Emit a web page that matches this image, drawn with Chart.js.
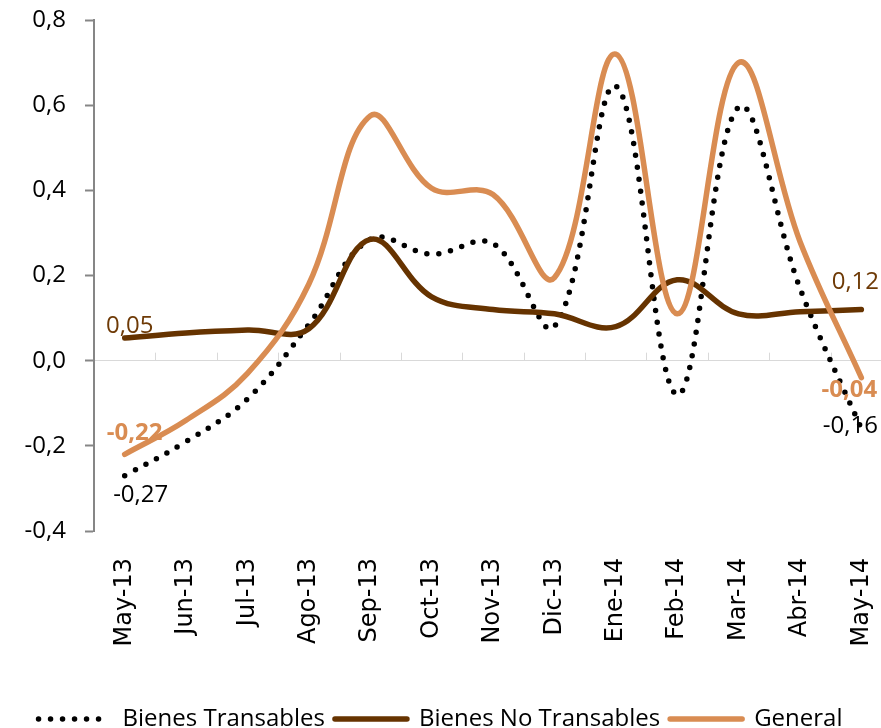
<!DOCTYPE html>
<html>
<head>
<meta charset="utf-8">
<script src="https://cdn.jsdelivr.net/npm/chart.js@4.4.1/dist/chart.umd.min.js"></script>
<style>
  html, body { margin: 0; padding: 0; background: #ffffff; }
  #wrap { width: 881px; height: 728px; }
</style>
</head>
<body>
<div id="wrap"><canvas id="c" width="881" height="728"></canvas></div>
<script>
const categories = ['May-13','Jun-13','Jul-13','Ago-13','Sep-13','Oct-13','Nov-13','Dic-13','Ene-14','Feb-14','Mar-14','Abr-14','May-14'];
const transables = [-0.27, -0.19, -0.09, 0.085, 0.285, 0.25, 0.275, 0.08, 0.645, -0.08, 0.595, 0.17, -0.16];
const noTransables = [0.053, 0.065, 0.072, 0.075, 0.285, 0.15, 0.12, 0.11, 0.08, 0.19, 0.11, 0.115, 0.12];
const general = [-0.22, -0.14, -0.03, 0.18, 0.575, 0.405, 0.39, 0.195, 0.72, 0.11, 0.70, 0.28, -0.04];
const seriesNames = ['Bienes Transables', 'Bienes No Transables', 'General'];
const yTicks = { min: -0.4, max: 0.8, step: 0.2 };

const fmt = (v, d) => (Math.abs(v) < 1e-9 ? 0 : v).toFixed(d).replace('.', ',');
const toPoints = arr => arr.map((v, i) => ({ x: i, y: v }));

const zeroTicks = {
  id: 'zeroTicks',
  beforeDatasetsDraw(chart) {
    const xs = chart.scales.x, ys = chart.scales.y, ctx = chart.ctx;
    const y0 = ys.getPixelForValue(0);
    ctx.save();
    ctx.strokeStyle = '#d9d9d9';
    ctx.lineWidth = 1;
    for (let i = 1; i < categories.length; i++) {
      const x = Math.round(xs.getPixelForValue(i - 0.5)) + 0.5;
      ctx.beginPath();
      ctx.moveTo(x, y0);
      ctx.lineTo(x, y0 - 8);
      ctx.stroke();
    }
    ctx.restore();
  }
};

const endLabels = {
  id: 'endLabels',
  afterDatasetsDraw(chart) {
    const ctx = chart.ctx;
    const specs = [
      { ds: 0, color: '#000000', bold: false, first: [16, 20], last: [-11, -3] },
      { ds: 1, color: '#6e3a06', bold: false, first: [5, -12], last: [-6, -27] },
      { ds: 2, color: '#d98c52', bold: true, first: [10, -21], last: [-12, 12] }
    ];
    ctx.save();
    ctx.textAlign = 'center';
    ctx.textBaseline = 'middle';
    specs.forEach(s => {
      const meta = chart.getDatasetMeta(s.ds);
      const data = chart.data.datasets[s.ds].data;
      ctx.font = (s.bold ? 'bold ' : '') + '24px "Open Sans"';
      ctx.fillStyle = s.color;
      const p0 = meta.data[0], pn = meta.data[data.length - 1];
      ctx.fillText(fmt(data[0].y, 2), p0.x + s.first[0], p0.y + s.first[1]);
      ctx.fillText(fmt(data[data.length - 1].y, 2), pn.x + s.last[0], pn.y + s.last[1]);
    });
    ctx.restore();
  }
};

Chart.defaults.font.family = '"Open Sans", sans-serif';
Chart.defaults.color = '#000000';

const PAD_BOTTOM = -13;

new Chart(document.getElementById('c'), {
  type: 'line',
  data: {
    datasets: [
      {
        label: seriesNames[0], data: toPoints(transables), order: 2,
        borderColor: '#000000', backgroundColor: '#000000',
        borderWidth: 5.5, borderDash: [0, 12], borderCapStyle: 'round',
        pointRadius: 0, tension: 0.38, fill: false
      },
      {
        label: seriesNames[1], data: toPoints(noTransables), order: 1,
        borderColor: '#663300', backgroundColor: '#663300',
        borderWidth: 5.5, borderCapStyle: 'round',
        pointRadius: 0, tension: 0.38, fill: false
      },
      {
        label: seriesNames[2], data: toPoints(general), order: 0,
        borderColor: '#d98c52', backgroundColor: '#d98c52',
        borderWidth: 5.5, borderCapStyle: 'round',
        pointRadius: 0, tension: 0.38, fill: false
      }
    ]
  },
  options: {
    responsive: false,
    animation: false,
    layout: { padding: { left: 0, right: 0, top: 20, bottom: PAD_BOTTOM } },
    plugins: {
      tooltip: { enabled: false },
      legend: {
        position: 'bottom',
        labels: {
          usePointStyle: true,
          pointStyle: 'line',
          pointStyleWidth: 72,
          padding: 10,
          color: '#000000',
          font: { size: 24, family: '"Open Sans", sans-serif' },
          sort: (a, b) => a.datasetIndex - b.datasetIndex,
          generateLabels(chart) {
            const items = Chart.defaults.plugins.legend.labels.generateLabels(chart);
            items.forEach(it => {
              const ds = chart.data.datasets[it.datasetIndex];
              it.lineDash = ds.borderDash || [];
              it.lineCap = ds.borderCapStyle || 'butt';
              it.lineWidth = ds.borderWidth;
              it.strokeStyle = ds.borderColor;
              it.fillStyle = ds.borderColor;
              it.pointStyle = 'line';
            });
            return items;
          }
        }
      }
    },
    scales: {
      x: {
        type: 'linear',
        min: -0.5,
        max: 12.32,
        grid: { display: false, drawTicks: false },
        border: { display: false },
        ticks: {
          stepSize: 1, maxTicksLimit: 30, includeBounds: false,
          minRotation: 90, maxRotation: 90, autoSkip: false, padding: 27,
          color: '#000000',
          font: { size: 24, family: '"DejaVu Sans", sans-serif' },
          callback: v => (Number.isInteger(v) && categories[v] !== undefined) ? categories[v] : ''
        },
        afterFit(scale) {
          const lg = scale.chart.legend;
          const lh = lg ? lg.height : 44;
          scale.height = Math.max(60, scale.chart.height - PAD_BOTTOM - lh - 531);
          scale.paddingLeft = 0;
          scale.paddingRight = 0;
        }
      },
      y: {
        min: yTicks.min, max: yTicks.max,
        border: { display: true, color: '#868686', width: 2 },
        grid: {
          color: c => (c.tick && Math.abs(c.tick.value) < 1e-9) ? '#d9d9d9' : 'rgba(0,0,0,0)',
          tickColor: '#868686',
          tickLength: 9,
          tickWidth: 2,
          lineWidth: 1
        },
        ticks: {
          stepSize: yTicks.step,
          padding: 19,
          color: '#000000',
          font: { size: 24, family: '"Open Sans", sans-serif' },
          callback: v => fmt(v, 1)
        },
        afterFit(scale) {
          scale.width = 94;
          scale.paddingTop = 0;
          scale.paddingBottom = 0;
        }
      }
    }
  },
  plugins: [zeroTicks, endLabels]
});
</script>
</body>
</html>
